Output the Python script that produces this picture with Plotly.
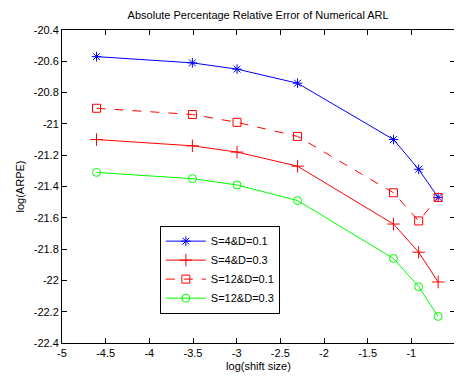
import plotly.graph_objects as go

x_vals = [-4.605, -3.507, -2.996, -2.303, -1.204, -0.916, -0.693]
s4_d01 = [-20.57, -20.61, -20.65, -20.74, -21.10, -21.29, -21.47]
s4_d03 = [-21.10, -21.14, -21.18, -21.27, -21.64, -21.82, -22.01]
s12_d01 = [-20.90, -20.94, -20.99, -21.08, -21.44, -21.62, -21.47]
s12_d03 = [-21.31, -21.35, -21.39, -21.49, -21.86, -22.04, -22.23]
names = ["S=4&D=0.1", "S=4&D=0.3", "S=12&D=0.1", "S=12&D=0.3"]
x_ticks = [-5, -4.5, -4, -3.5, -3, -2.5, -2, -1.5, -1, -0.5]
x_labels = ["-5", "-4.5", "-4", "-3.5", "-3", "-2.5", "-2", "-1.5", "-1", "-0.5"]
y_ticks = [-22.4, -22.2, -22, -21.8, -21.6, -21.4, -21.2, -21, -20.8, -20.6, -20.4]
y_labels = ["-22.4", "-22.2", "-22", "-21.8", "-21.6", "-21.4", "-21.2", "-21", "-20.8", "-20.6", "-20.4"]

FONT = "Liberation Sans, Arial"
fig = go.Figure()
styles = [
    (s4_d01, "#0000ff", "solid", "asterisk-open", 8),
    (s4_d03, "#ff0000", "solid", "cross-thin-open", 9),
    (s12_d01, "#ff0000", "dash", "square-open", 8),
    (s12_d03, "#00ff00", "solid", "circle-open", 8),
]
for (ys, col, dash, sym, sz), nm in zip(styles, names):
    fig.add_trace(go.Scatter(
        x=x_vals, y=ys, name=nm, mode="lines+markers",
        line=dict(color=col, width=1, dash=dash),
        marker=dict(symbol=sym, size=sz, color=col, line=dict(color=col, width=1)),
    ))

axis_common = dict(
    showgrid=False, zeroline=False, showline=True, linecolor="black", linewidth=1,
    mirror="ticks", ticks="inside", ticklen=5, tickcolor="black",
    tickfont=dict(family=FONT, size=11, color="black"),
)
fig.update_xaxes(range=[-5, -0.5], tickvals=x_ticks, ticktext=x_labels,
                 title=dict(text="log(shift size)", font=dict(family=FONT, size=11, color="black"), standoff=4),
                 **axis_common)
fig.update_yaxes(range=[-22.4, -20.4], tickvals=y_ticks, ticktext=y_labels,
                 title=dict(text="log(ARPE)", font=dict(family=FONT, size=11, color="black"), standoff=6),
                 **axis_common)

fig.update_layout(
    width=454, height=370,
    margin=dict(l=54, r=7, t=22, b=35),
    paper_bgcolor="white", plot_bgcolor="white",
    title=dict(text="Absolute Percentage Relative Error of Numerical ARL",
               x=0.551, xanchor="center", y=0.981, yanchor="middle",
               font=dict(family=FONT, size=11, color="black")),
    legend=dict(x=0.249, y=0.375, xanchor="left", yanchor="top",
                bgcolor="white", bordercolor="black", borderwidth=1,
                font=dict(family=FONT, size=11, color="black"),
                tracegroupgap=0, itemwidth=40),
    showlegend=True,
)
fig.write_html("out.html")
